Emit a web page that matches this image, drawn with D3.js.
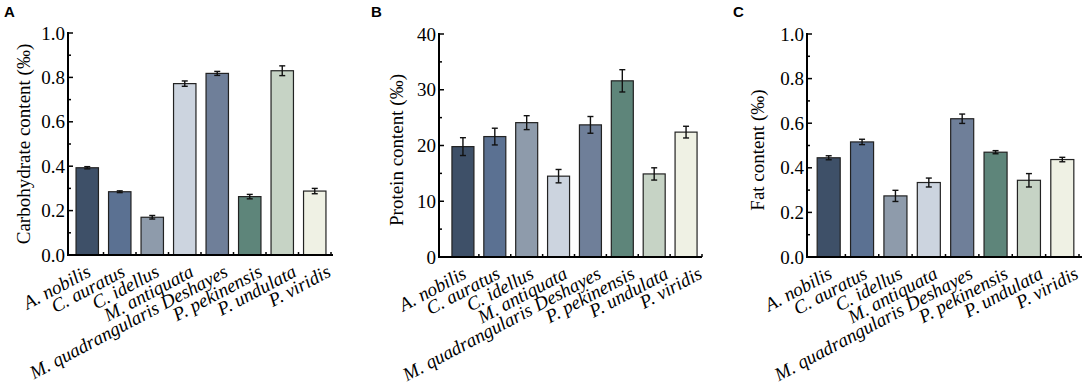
<!DOCTYPE html>
<html>
<head>
<meta charset="utf-8">
<script src="https://cdn.jsdelivr.net/npm/d3@7"></script>
<style>
  body { margin: 0; background: #fff; }
  svg { display: block; }
</style>
</head>
<body>
<div id="chart"></div>
<script>
// ── Datos ───────────────────────────────────────────
const species = ['A. nobilis', 'C. auratus', 'C. idellus', 'M. antiquata',
                 'M. quadrangularis Deshayes', 'P. pekinensis', 'P. undulata', 'P. viridis'];
const barColors = ['#3e5068', '#5b7192', '#8e9bab', '#ccd4df',
                   '#6f7f99', '#5e857a', '#c6d3c5', '#eff1e4'];

const carbValues = [0.393, 0.285, 0.170, 0.772, 0.818, 0.263, 0.830, 0.288];
const carbErrors = [0.005, 0.004, 0.008, 0.012, 0.009, 0.010, 0.022, 0.012];

const proteinValues = [19.8, 21.6, 24.1, 14.5, 23.7, 31.6, 14.9, 22.4];
const proteinErrors = [1.6, 1.5, 1.25, 1.2, 1.5, 2.0, 1.1, 1.05];

const fatValues = [0.445, 0.516, 0.274, 0.334, 0.620, 0.470, 0.344, 0.437];
const fatErrors = [0.009, 0.012, 0.025, 0.020, 0.021, 0.007, 0.030, 0.010];

const carbTicks = [0.0, 0.2, 0.4, 0.6, 0.8, 1.0];
const proteinTicks = [0, 10, 20, 30, 40];
const fatTicks = [0.0, 0.2, 0.4, 0.6, 0.8, 1.0];

// ── Paneles ─────────────────────────────────────────
const panels = [
  { letter: 'A', letterX: 4, title: 'Carbohydrate content (‰)', titleX: 30, titleY: 144,
    axisX: 68, axisEnd: 333, bandRange: [71, 331], top: 33, zero: 255,
    domain: [0, 1], ticks: carbTicks, fmt: d3.format('.1f'),
    values: carbValues, errors: carbErrors },
  { letter: 'B', letterX: 371, title: 'Protein content (‰)', titleX: 403, titleY: 150,
    axisX: 439, axisEnd: 702, bandRange: [447, 702], top: 34, zero: 257,
    domain: [0, 40], ticks: proteinTicks, fmt: d3.format('d'),
    values: proteinValues, errors: proteinErrors },
  { letter: 'C', letterX: 733, title: 'Fat content (‰)', titleX: 764, titleY: 150,
    axisX: 807, axisEnd: 1082, bandRange: [812, 1079], top: 34, zero: 257,
    domain: [0, 1], ticks: fatTicks, fmt: d3.format('.1f'),
    values: fatValues, errors: fatErrors }
];

const W = 1084, H = 386;
const serif = '"Liberation Serif", "Times New Roman", serif';

const svg = d3.select('#chart').append('svg')
  .attr('width', W).attr('height', H);

panels.forEach(p => {
  const g = svg.append('g');

  const x = d3.scaleBand().domain(species).range(p.bandRange).paddingInner(0.31).paddingOuter(0.155);
  const y = d3.scaleLinear().domain(p.domain).range([p.zero, p.top]);
  const half = x.bandwidth() / 2;
  // las etiquetas se abren un poco más que las barras
  const xl = d3.scalePoint().domain(species)
    .range([x(species[0]) + half, x(species[species.length - 1]) + half + 12.6]);

  // ── Barras ──
  g.append('g').selectAll('rect')
    .data(species)
    .join('rect')
    .attr('x', d => x(d))
    .attr('y', (d, i) => y(p.values[i]))
    .attr('width', x.bandwidth())
    .attr('height', (d, i) => p.zero - y(p.values[i]))
    .attr('fill', (d, i) => barColors[i])
    .attr('stroke', '#222')
    .attr('stroke-width', 1.2);

  // ── Barras de error ──
  const eb = g.append('g').attr('stroke', '#111').attr('stroke-width', 1.4);
  species.forEach((s, i) => {
    const cx = x(s) + half;
    const hi = y(p.values[i] + p.errors[i]);
    const lo = y(p.values[i] - p.errors[i]);
    eb.append('line').attr('x1', cx).attr('x2', cx).attr('y1', hi).attr('y2', lo);
    eb.append('line').attr('x1', cx - 3).attr('x2', cx + 3).attr('y1', hi).attr('y2', hi);
    eb.append('line').attr('x1', cx - 3).attr('x2', cx + 3).attr('y1', lo).attr('y2', lo);
  });

  // ── Eje Y ──
  const yAxis = g.append('g').attr('transform', `translate(${p.axisX},0)`);
  yAxis.append('line').attr('x1', 0).attr('x2', 0)
    .attr('y1', p.top - 1).attr('y2', p.zero + 1)
    .attr('stroke', '#000').attr('stroke-width', 2);
  yAxis.selectAll('.major').data(p.ticks).join('line')
    .attr('x1', 0).attr('x2', 5)
    .attr('y1', d => y(d)).attr('y2', d => y(d))
    .attr('stroke', '#000').attr('stroke-width', 1.5);
  const step = p.ticks[1] - p.ticks[0];
  const minors = p.ticks.slice(0, -1).map(d => d + step / 2);
  yAxis.selectAll('.minor').data(minors).join('line')
    .attr('x1', 0).attr('x2', 3)
    .attr('y1', d => y(d)).attr('y2', d => y(d))
    .attr('stroke', '#000').attr('stroke-width', 1.5);
  yAxis.selectAll('text').data(p.ticks).join('text')
    .attr('x', -3).attr('y', d => y(d))
    .attr('dy', '0.35em')
    .attr('text-anchor', 'end')
    .style('font-family', serif).style('font-size', '19px')
    .text(p.fmt);

  // ── Eje X ──
  const xAxis = g.append('g');
  xAxis.append('line').attr('x1', p.axisX - 1).attr('x2', p.axisEnd)
    .attr('y1', p.zero).attr('y2', p.zero)
    .attr('stroke', '#000').attr('stroke-width', 2);
  const bounds = species.map(s => x(s) + half + x.step() / 2);
  xAxis.selectAll('.xminor').data(bounds).join('line')
    .attr('x1', d => d).attr('x2', d => d)
    .attr('y1', p.zero).attr('y2', p.zero - 3)
    .attr('stroke', '#000').attr('stroke-width', 1.5);
  xAxis.selectAll('text').data(species).join('text')
    .attr('transform', s => `translate(${xl(s) - 2},${p.zero + 8}) rotate(-28)`)
    .attr('dy', '0.75em')
    .attr('text-anchor', 'end')
    .style('font-family', serif).style('font-size', '19px').style('font-style', 'italic')
    .text(s => s);

  // ── Título del eje ──
  g.append('text')
    .attr('transform', `translate(${p.titleX},${p.titleY}) rotate(-90)`)
    .attr('text-anchor', 'middle')
    .style('font-family', serif).style('font-size', '19px')
    .text(p.title);

  // ── Letra del panel ──
  g.append('text')
    .attr('x', p.letterX).attr('y', 17)
    .style('font-family', '"Liberation Sans", Arial, sans-serif')
    .style('font-size', '15px').style('font-weight', 'bold')
    .text(p.letter);
});
</script>
</body>
</html>
